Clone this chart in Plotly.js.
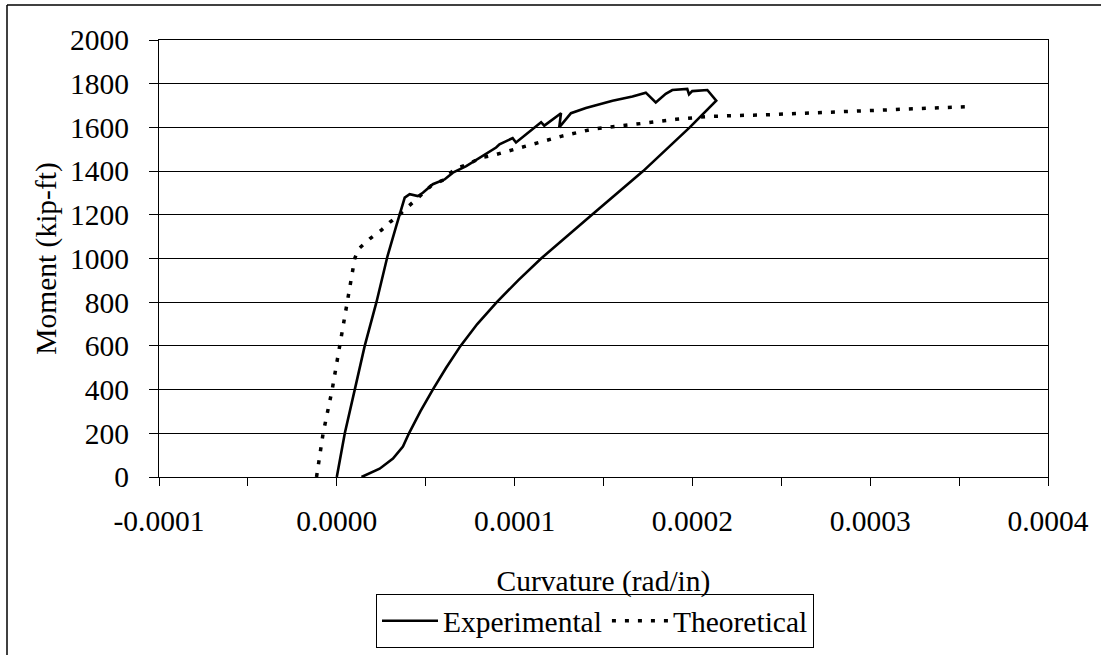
<!DOCTYPE html>
<html>
<head>
<meta charset="utf-8">
<script src="https://cdn.plot.ly/plotly-3.0.1.min.js"></script>
<style>
html,body{margin:0;padding:0;background:#fff;}
#chart{width:1101px;height:655px;}
</style>
</head>
<body>
<div id="chart"></div>
<script>
// Experimental: loading branch then unloading branch (curvature rad/in, moment kip-ft)
var expCurvature = [
  0, 4.5e-6, 1.01e-5, 1.57e-5, 2.23e-5, 2.85e-5, 3.35e-5, 3.54e-5, 3.82e-5, 4.1e-5,
  4.56e-5, 4.84e-5, 5.4e-5, 6.06e-5, 6.53e-5, 7.28e-5, 8.02e-5, 8.96e-5, 9.15e-5, 9.89e-5,
  1.008e-4, 1.102e-4, 1.149e-4, 1.167e-4, 1.261e-4, 1.251e-4, 1.317e-4, 1.401e-4, 1.476e-4, 1.551e-4,
  1.663e-4, 1.738e-4, 1.794e-4, 1.850e-4, 1.887e-4, 1.971e-4, 1.981e-4, 1.999e-4, 2.084e-4, 2.134e-4,
  1.985e-4, 1.723e-4, 1.435e-4, 1.149e-4, 1.02e-4, 9.0e-5, 7.9e-5, 6.96e-5, 6.15e-5, 5.40e-5,
  4.7e-5, 4.06e-5, 3.72e-5, 3.16e-5, 2.41e-5, 1.39e-5
];
var expMoment = [
  0, 200, 400, 600, 800, 1010, 1150, 1203, 1279, 1294,
  1286, 1301, 1340, 1362, 1393, 1423, 1462, 1508, 1523, 1551,
  1531, 1592, 1624, 1608, 1665, 1600, 1665, 1689, 1705, 1722,
  1741, 1759, 1714, 1754, 1771, 1776, 1751, 1766, 1771, 1722,
  1600, 1400, 1200, 1000, 900, 800, 700, 600, 500, 400,
  300, 200, 139, 84, 38, 0
];
// Theoretical moment-curvature
var theoCurvature = [
  -1.14e-5, -0.77e-5, -0.26e-5, 0.17e-5, 0.63e-5, 1.01e-5, 1.2e-5, 1.85e-5, 2.51e-5, 2.97e-5,
  3.44e-5, 4.19e-5, 4.66e-5, 5.31e-5, 6.06e-5, 6.62e-5, 7.37e-5, 8.12e-5, 8.87e-5, 9.52e-5,
  1.036e-4, 1.111e-4, 1.261e-4, 1.438e-4, 1.588e-4, 1.747e-4, 1.906e-4, 2.075e-4, 2.233e-4, 2.392e-4,
  2.692e-4, 3.010e-4, 3.328e-4, 3.548e-4
];
var theoMoment = [
  0, 200, 400, 600, 800, 1000, 1042, 1090, 1130, 1165,
  1195, 1249, 1287, 1333, 1362, 1410, 1431, 1462, 1474, 1489,
  1508, 1528, 1559, 1592, 1605, 1621, 1637, 1649, 1654, 1657,
  1667, 1678, 1688, 1695
];
var xTickVals = [-0.0001, -0.00005, 0, 0.00005, 0.0001, 0.00015, 0.0002, 0.00025, 0.0003, 0.00035, 0.0004];
var xTickText = ['-0.0001', '', '0.0000', '', '0.0001', '', '0.0002', '', '0.0003', '', '0.0004'];
var seriesNames = ['Experimental', 'Theoretical'];

var FONT = 'Liberation Serif, Times New Roman, serif';
var FS = 29.5;
var M = {l: 159, r: 53, t: 40, b: 178, autoexpand: false};
var W = 1101, H = 655;
var pw = W - M.l - M.r, ph = H - M.t - M.b;
function px2paperX(p){ return (p - M.l) / pw; }
function px2paperY(p){ return (H - M.b - p) / ph; }

var traces = [
  {x: expCurvature, y: expMoment, name: seriesNames[0], type: 'scatter', mode: 'lines',
   line: {color: '#000', width: 2.6}},
  {x: theoCurvature, y: theoMoment, name: seriesNames[1], type: 'scatter', mode: 'lines',
   line: {color: '#000', width: 3.5, dash: '4px,9px'}}
];

var layout = {
  width: W, height: H,
  margin: M,
  paper_bgcolor: '#fff', plot_bgcolor: '#fff',
  font: {family: FONT, size: FS, color: '#000'},
  showlegend: true,
  hovermode: false,
  xaxis: {
    range: [-0.0001, 0.0004],
    tickmode: 'array', tickvals: xTickVals, ticktext: xTickText,
    ticks: 'outside', ticklen: 8, tickwidth: 1, tickcolor: '#000',
    showgrid: false, zeroline: false,
    showline: true, linecolor: '#000', linewidth: 1, mirror: true,
    tickfont: {family: FONT, size: FS, color: '#000'},
    ticklabelstandoff: 10,
    title: {text: 'Curvature (rad/in)', font: {family: FONT, size: FS, color: '#000'}, standoff: 33},
    automargin: false
  },
  yaxis: {
    range: [0, 2000], dtick: 200, tick0: 0,
    ticks: 'outside', ticklen: 9, tickwidth: 1, tickcolor: '#000',
    showgrid: true, gridcolor: '#000', gridwidth: 1,
    zeroline: false,
    showline: true, linecolor: '#000', linewidth: 1, mirror: true,
    tickfont: {family: FONT, size: FS, color: '#000'},
    ticklabelstandoff: 14,
    title: {text: 'Moment (kip-ft)', font: {family: FONT, size: FS, color: '#000'}, standoff: 4},
    automargin: false
  },
  legend: {
    orientation: 'h',
    x: px2paperX(376), xanchor: 'left',
    y: px2paperY(648), yanchor: 'bottom',
    bordercolor: '#000', borderwidth: 1, bgcolor: '#fff',
    font: {family: FONT, size: FS, color: '#000'},
    itemwidth: 56, tracegroupgap: 0
  },
  shapes: [
    {type: 'line', xref: 'paper', yref: 'paper', x0: px2paperX(7), x1: px2paperX(1110), y0: px2paperY(5), y1: px2paperY(5), line: {color: '#000', width: 1.5}},
    {type: 'line', xref: 'paper', yref: 'paper', x0: px2paperX(7), x1: px2paperX(7), y0: px2paperY(5), y1: px2paperY(665), line: {color: '#000', width: 1.5}}
  ]
};

Plotly.newPlot('chart', traces, layout, {displayModeBar: false, staticPlot: true});
</script>
</body>
</html>
